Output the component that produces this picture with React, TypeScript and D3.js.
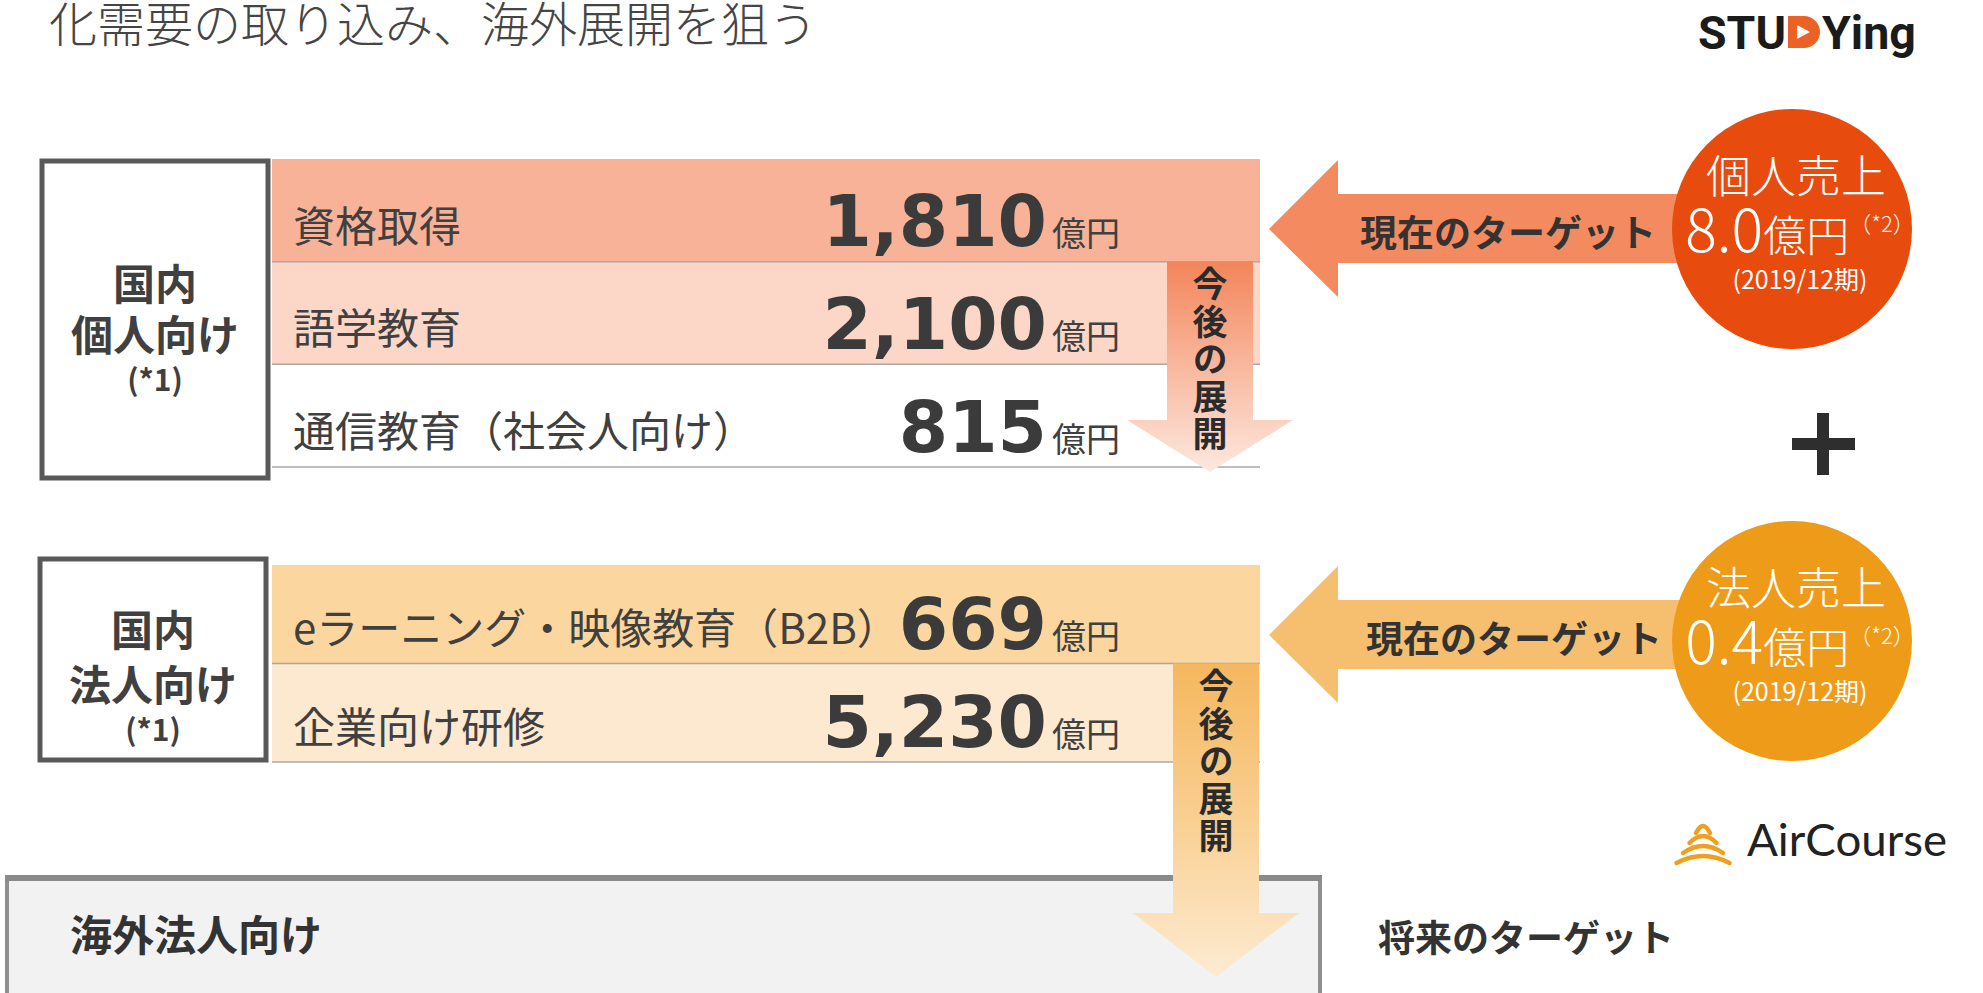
import { useEffect, useRef } from 'react';
import * as d3 from 'd3';

// ── data ────────────────────────────────────────────────
const title = '化需要の取り込み、海外展開を狙う';

const personalSegments = ['資格取得', '語学教育', '通信教育（社会人向け）'];
const personalMarket = [1810, 2100, 815];

const corporateSegments = ['eラーニング・映像教育（B2B）', '企業向け研修'];
const corporateMarket = [669, 5230];

const groupTitles = [['国内', '個人向け'], ['国内', '法人向け']];
const groupNote = '(*1)';

const salesLabels = ['個人売上', '法人売上'];
const salesValues = [8.0, 0.4];
const salesNote = '（*2）';
const salesPeriod = '(2019/12期)';

const unit = '億円';
const expandLabel = '今後の展開';
const currentTarget = '現在のターゲット';
const futureTarget = '将来のターゲット';
const overseasLabel = '海外法人向け';

const JP = '"Noto Sans CJK JP", "Noto Sans", sans-serif';
const NUM = '"DejaVu Sans", sans-serif';
const W = 1983;
const H = 993;

export default function App() {
  const svgRef = useRef<SVGSVGElement | null>(null);

  useEffect(() => {
    const svg = d3.select(svgRef.current);
    svg.selectAll('*').remove();
    svg.attr('width', W).attr('height', H);
    const defs = svg.append('defs');

    svg.append('rect').attr('width', W).attr('height', H).attr('fill', '#fff');

    // ── title (cut at the top like the slide) ────────────
    svg.append('text')
      .attr('x', 49).attr('y', 42)
      .attr('font-family', JP).attr('font-size', 48).attr('font-weight', 300)
      .attr('fill', '#454545')
      .text(title);

    // ── overseas box ─────────────────────────────────────
    svg.append('rect')
      .attr('x', 7).attr('y', 878).attr('width', 1313).attr('height', 140)
      .attr('fill', '#f2f2f2').attr('stroke', '#8f8f8f').attr('stroke-width', 4);
    svg.append('line')
      .attr('x1', 5).attr('x2', 1322).attr('y1', 878).attr('y2', 878)
      .attr('stroke', '#8a8a8a').attr('stroke-width', 6);
    svg.append('text')
      .attr('x', 70).attr('y', 951)
      .attr('font-family', JP).attr('font-size', 42).attr('font-weight', 700)
      .attr('fill', '#333').text(overseasLabel);
    svg.append('text')
      .attr('x', 1378).attr('y', 952)
      .attr('font-family', JP).attr('font-size', 37).attr('font-weight', 700)
      .attr('fill', '#333').text(futureTarget);

    // ── market groups ────────────────────────────────────
    const groups = [
      {
        segs: personalSegments, vals: personalMarket, title: groupTitles[0],
        range: [159, 467], box: [42, 161, 226, 317], titleY: [281, 332, 378],
        fills: ['#f7b297', '#fcd6c7', '#ffffff'],
        arrow: { x0: 1167, x1: 1253, head: 420, tip: 472, grad: ['#f3845a', '#f8b89e', '#fde8df'] },
      },
      {
        segs: corporateSegments, vals: corporateMarket, title: groupTitles[1],
        range: [565, 762], box: [40, 559, 226, 201], titleY: [627, 682, 728],
        fills: ['#fbd69e', '#fde9cf'],
        arrow: { x0: 1173, x1: 1259, head: 913, tip: 977, grad: ['#f5b75e', '#f9cf92', '#fdebd2'] },
      },
    ];

    const bandX = [272, 1260];
    const fmt = d3.format(',');

    groups.forEach((gp, gi) => {
      const y = d3.scaleBand<string>().domain(gp.segs).range(gp.range as [number, number]);
      const g = svg.append('g');

      g.selectAll('rect.band').data(gp.segs).join('rect')
        .attr('x', bandX[0]).attr('width', bandX[1] - bandX[0])
        .attr('y', d => y(d)!).attr('height', y.bandwidth())
        .attr('fill', (_, i) => gp.fills[i]);

      g.selectAll('line.sep').data(gp.segs).join('line')
        .attr('x1', bandX[0]).attr('x2', bandX[1])
        .attr('y1', d => y(d)! + y.bandwidth()).attr('y2', d => y(d)! + y.bandwidth())
        .attr('stroke', '#a8a8a8').attr('stroke-width', 1.5);

      const base = (d: string) => y(d)! + y.bandwidth() * 0.85;

      g.selectAll('text.seg').data(gp.segs).join('text')
        .attr('x', 293).attr('y', d => base(d) - 23)
        .attr('dominant-baseline', 'central')
        .attr('font-family', JP).attr('font-size', 42)
        .attr('fill', '#404040')
        .text(d => d);

      g.selectAll('text.val').data(gp.segs).join('text')
        .attr('x', 1047).attr('y', d => base(d))
        .attr('text-anchor', 'end')
        .attr('font-family', NUM).attr('font-size', 71).attr('font-weight', 700)
        .attr('fill', '#3b3b3b')
        .text((_, i) => fmt(gp.vals[i]));

      g.selectAll('text.unit').data(gp.segs).join('text')
        .attr('x', 1052).attr('y', d => base(d))
        .attr('font-family', JP).attr('font-size', 34)
        .attr('fill', '#404040')
        .text(unit);

      // left category box
      const [bx, by, bw, bh] = gp.box;
      g.append('rect')
        .attr('x', bx).attr('y', by).attr('width', bw).attr('height', bh)
        .attr('fill', '#fff').attr('stroke', '#595959').attr('stroke-width', 5);
      const tx = bx + bw / 2;
      gp.title.forEach((t, i) => {
        g.append('text')
          .attr('x', tx).attr('y', gp.titleY[i])
          .attr('text-anchor', 'middle').attr('dominant-baseline', 'central')
          .attr('font-family', JP).attr('font-size', 42).attr('font-weight', 700)
          .attr('fill', '#404040').text(t);
      });
      g.append('text')
        .attr('x', tx).attr('y', gp.titleY[2])
        .attr('text-anchor', 'middle').attr('dominant-baseline', 'central')
        .attr('font-family', JP).attr('font-size', 30).attr('font-weight', 700)
        .attr('fill', '#404040').text(groupNote);

      // downward "今後の展開" arrow
      const a = gp.arrow;
      const top = y(gp.segs[1])!;
      const cx = (a.x0 + a.x1) / 2;
      const gid = `down-grad-${gi}`;
      const lg = defs.append('linearGradient')
        .attr('id', gid).attr('x1', 0).attr('y1', 0).attr('x2', 0).attr('y2', 1);
      a.grad.forEach((c, i) => lg.append('stop').attr('offset', `${i * 50}%`).attr('stop-color', c));
      const p = d3.path();
      p.moveTo(a.x0, top); p.lineTo(a.x1, top); p.lineTo(a.x1, a.head);
      p.lineTo(a.x1 + 40, a.head); p.lineTo(cx, a.tip); p.lineTo(a.x0 - 40, a.head);
      p.lineTo(a.x0, a.head); p.closePath();
      svg.append('path').attr('d', p.toString()).attr('fill', `url(#${gid})`);

      svg.append('text')
        .attr('x', cx).attr('y', top + 5)
        .attr('writing-mode', 'vertical-rl')
        .attr('letter-spacing', 2.5)
        .attr('font-family', JP).attr('font-size', 35).attr('font-weight', 700)
        .attr('fill', '#2b2b2b').text(expandLabel);
    });

    // ── current-target arrows + sales circles ────────────
    const circles = [
      { cy: 229, arrowY: 229, fill: '#e84b0e', arrowFill: '#f48a5f' },
      { cy: 641, arrowY: 635, fill: '#ef9b1a', arrowFill: '#f6bf70' },
    ];
    const ccx = 1792;
    const r = 120;

    circles.forEach((c, i) => {
      const ay = c.arrowY;
      const p = d3.path();
      p.moveTo(1269, ay); p.lineTo(1338, ay - 69); p.lineTo(1338, ay - 35);
      p.lineTo(ccx, ay - 35); p.lineTo(ccx, ay + 34); p.lineTo(1338, ay + 34);
      p.lineTo(1338, ay + 68); p.closePath();
      svg.append('path').attr('d', p.toString()).attr('fill', c.arrowFill);
      svg.append('text')
        .attr('x', 1360 + i * 6).attr('y', ay + 2)
        .attr('dominant-baseline', 'central')
        .attr('font-family', JP).attr('font-size', 37).attr('font-weight', 700)
        .attr('fill', '#333').text(currentTarget);

      svg.append('circle').attr('cx', ccx).attr('cy', c.cy).attr('r', r).attr('fill', c.fill);

      svg.append('text')
        .attr('x', ccx + 4).attr('y', c.cy - 36)
        .attr('text-anchor', 'middle')
        .attr('font-family', JP).attr('font-size', 45).attr('font-weight', 300)
        .attr('fill', '#fff').text(salesLabels[i]);

      const vt = svg.append('text')
        .attr('x', ccx + 8).attr('y', c.cy + 23)
        .attr('text-anchor', 'middle')
        .attr('font-family', JP).attr('font-weight', 300).attr('fill', '#fff');
      vt.append('tspan').attr('font-size', 59).text(d3.format('.1f')(salesValues[i]));
      vt.append('tspan').attr('font-size', 43).text(unit);
      vt.append('tspan').attr('font-size', 22).attr('dy', -20).text(salesNote);

      svg.append('text')
        .attr('x', ccx + 8).attr('y', c.cy + 60)
        .attr('text-anchor', 'middle')
        .attr('font-family', JP).attr('font-size', 25)
        .attr('fill', '#fff').text(salesPeriod);
    });

    // plus sign
    svg.append('rect').attr('x', 1792).attr('y', 438).attr('width', 63).attr('height', 12).attr('fill', '#2e2e2e');
    svg.append('rect').attr('x', 1817).attr('y', 413).attr('width', 12).attr('height', 62).attr('fill', '#2e2e2e');

    // ── logos ────────────────────────────────────────────
    const logo = svg.append('g').attr('font-family', 'Roboto, sans-serif').attr('font-weight', 700).attr('fill', '#1b1b1b');
    logo.append('text').attr('x', 1698).attr('y', 49).attr('font-size', 46)
      .attr('textLength', 88).attr('lengthAdjust', 'spacingAndGlyphs').text('STU');
    logo.append('path').attr('d', 'M1788,16 H1804 A16,16 0 0 1 1804,48 H1788 Z').attr('fill', '#ec6224');
    logo.append('path').attr('d', 'M1797,25 L1810,32 L1797,39 Z').attr('fill', '#fff');
    logo.append('text').attr('x', 1822).attr('y', 49).attr('font-size', 46)
      .attr('textLength', 94).attr('lengthAdjust', 'spacingAndGlyphs').text('Ying');

    const ac = svg.append('g');
    [0, 1, 2, 3].forEach(i => {
      const yy = 826 + i * 10;
      const hw = 7 + i * 6.5;
      ac.append('path')
        .attr('d', `M${1703 - hw},${yy + 7} Q1703,${yy - 7} ${1703 + hw},${yy + 7}`)
        .attr('fill', 'none').attr('stroke', '#f0a020').attr('stroke-width', 4.5)
        .attr('stroke-linecap', 'round');
    });
    ac.append('text').attr('x', 1747).attr('y', 856)
      .attr('font-family', 'Lato, sans-serif').attr('font-size', 44)
      .attr('textLength', 200).attr('lengthAdjust', 'spacingAndGlyphs')
      .attr('fill', '#222').text('AirCourse');
  }, []);

  return (
    <div style={{ position: 'absolute', left: 0, top: 0 }}>
      <svg ref={svgRef} style={{ display: 'block' }} />
    </div>
  );
}
